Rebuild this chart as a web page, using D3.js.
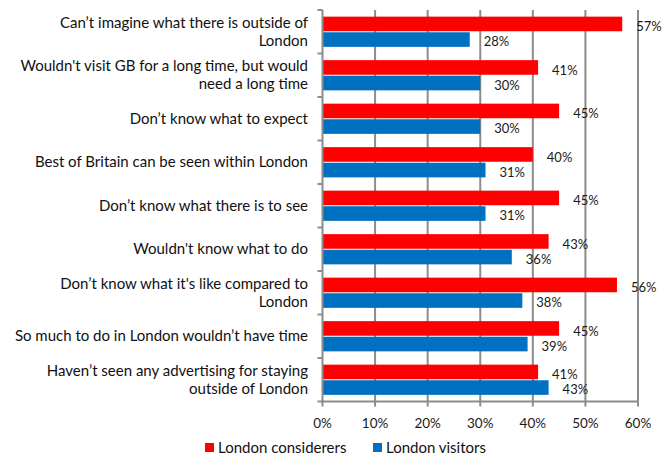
<!DOCTYPE html>
<html>
<head>
<meta charset="utf-8">
<script src="https://cdn.jsdelivr.net/npm/d3@7"></script>
<style>
  html, body { margin: 0; padding: 0; background: #fff; }
  svg { display: block; font-family: Lato, "Open Sans", sans-serif; }
</style>
</head>
<body>
<svg id="chart" width="662" height="456"></svg>
<script>
// Reasons for not travelling beyond London (top to bottom)
const categories = [
  ["Can’t imagine what there is outside of", "London"],
  ["Wouldn't visit GB for a long time, but would", "need a long time"],
  ["Don’t know what to expect"],
  ["Best of Britain can be seen within London"],
  ["Don’t know what there is to see"],
  ["Wouldn't know what to do"],
  ["Don’t know what it's like compared to", "London"],
  ["So much to do in London wouldn’t have time"],
  ["Haven’t seen any advertising for staying", "outside of London"]
];
const considerers = [57, 41, 45, 40, 45, 43, 56, 45, 41];
const visitors    = [28, 30, 30, 31, 31, 36, 38, 39, 43];
const seriesNames = ["London considerers", "London visitors"];
const seriesColors = ["#ff0000", "#0070c0"];
const xTicks = [0, 10, 20, 30, 40, 50, 60];

const svg = d3.select("#chart");
const plotLeft = 322.5, plotRight = 638, plotTop = 10, plotBottom = 401.5;

const x = d3.scaleLinear().domain([0, 60]).range([plotLeft, plotRight]);
const y = d3.scaleBand().domain(d3.range(categories.length)).range([plotTop, plotBottom]).paddingInner(0).paddingOuter(0);
const inner = d3.scaleBand().domain([0, 1]).range([0, y.bandwidth()]).paddingInner(0).paddingOuter(0.44);

// vertical gridlines
svg.append("g").selectAll("line").data(xTicks.slice(1)).join("line")
  .attr("x1", d => x(d)).attr("x2", d => x(d))
  .attr("y1", plotTop).attr("y2", plotBottom)
  .attr("stroke", "#8c8c8c").attr("stroke-width", 2);

// bars
const rows = categories.map((c, i) => ({ i, vals: [considerers[i], visitors[i]] }));
const groups = svg.append("g").selectAll("g").data(rows).join("g")
  .attr("transform", d => `translate(0,${y(d.i)})`);

groups.selectAll("rect").data(d => d.vals.map((v, s) => ({ v, s }))).join("rect")
  .attr("x", x(0))
  .attr("y", d => inner(d.s) + (d.s === 0 ? 0 : 0.5))
  .attr("width", d => x(d.v) - x(0))
  .attr("height", inner.bandwidth() - 0.5)
  .attr("fill", d => seriesColors[d.s]);

// value labels
groups.selectAll("text").data(d => d.vals.map((v, s) => ({ v, s }))).join("text")
  .attr("x", d => x(d.v) + 14)
  .attr("y", d => inner(d.s) + inner.bandwidth() / 2 + 7)
  .attr("font-size", 13)
  .attr("fill", "#1a1a1a")
  .text(d => d.v + "%");

// y axis
const yAxis = svg.append("g").attr("transform", `translate(${plotLeft},0)`);
yAxis.append("line").attr("x1", 0).attr("x2", 0).attr("y1", plotTop).attr("y2", plotBottom)
  .attr("stroke", "#8c8c8c").attr("stroke-width", 2);
yAxis.selectAll("line.tick").data(d3.range(categories.length + 1)).join("line")
  .attr("class", "tick")
  .attr("x1", -5).attr("x2", 0)
  .attr("y1", d => plotTop + d * y.step()).attr("y2", d => plotTop + d * y.step())
  .attr("stroke", "#8c8c8c").attr("stroke-width", 2);

// category labels
const catG = svg.append("g");
categories.forEach((lines, i) => {
  const cy = y(i) + y.bandwidth() / 2;
  const lh = 18;
  const t = catG.append("text")
    .attr("text-anchor", "end")
    .attr("font-size", 15)
    .attr("fill", "#111");
  lines.forEach((ln, k) => {
    t.append("tspan")
      .attr("x", 308)
      .attr("y", cy + (k - (lines.length - 1) / 2) * lh + 5)
      .text(ln);
  });
});

// x axis
const xAxisG = svg.append("g").attr("transform", `translate(0,${plotBottom})`);
xAxisG.append("line").attr("x1", plotLeft - 1).attr("x2", plotRight).attr("stroke", "#8c8c8c").attr("stroke-width", 2);
xAxisG.selectAll("line.tick").data(xTicks).join("line")
  .attr("class", "tick")
  .attr("x1", d => x(d)).attr("x2", d => x(d))
  .attr("y1", 0).attr("y2", 5)
  .attr("stroke", "#8c8c8c").attr("stroke-width", 2);
xAxisG.selectAll("text").data(xTicks).join("text")
  .attr("x", d => x(d))
  .attr("y", 26)
  .attr("text-anchor", "middle")
  .attr("font-size", 13.5)
  .attr("fill", "#1a1a1a")
  .text(d => d + "%");

// legend
const legendItems = [{ x: 205 }, { x: 373 }];
const leg = svg.append("g");
legendItems.forEach((it, s) => {
  leg.append("rect").attr("x", it.x).attr("y", 443).attr("width", 9).attr("height", 9)
    .attr("fill", seriesColors[s]);
  leg.append("text").attr("x", it.x + 13).attr("y", 452.5)
    .attr("font-size", 15).attr("fill", "#111")
    .text(seriesNames[s]);
});
</script>
</body>
</html>
